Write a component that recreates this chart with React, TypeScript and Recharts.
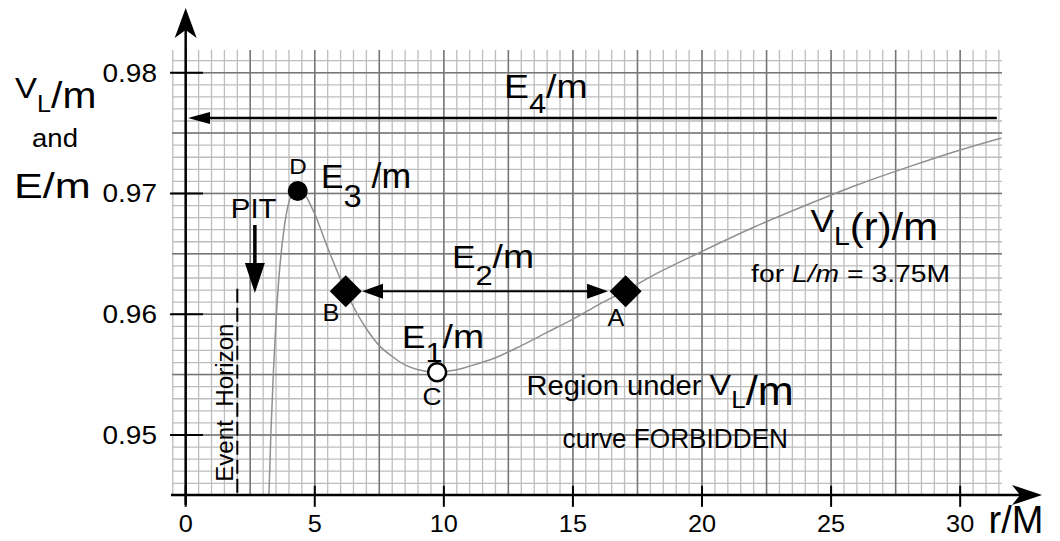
import React from 'react';
import { ComposedChart, Line, XAxis, YAxis, CartesianGrid, ReferenceLine, ReferenceDot } from 'recharts';

// ---- data ----
const rValues = [3.2, 3.3, 3.4, 3.5, 3.6, 3.7, 3.8, 3.9, 4.0, 4.1, 4.2, 4.3, 4.4, 4.5, 4.6, 4.8, 5.0, 5.5, 6.0, 6.5, 7.0, 7.5, 8.0, 8.5, 9.0, 9.7, 10.5, 11, 12, 13, 14, 15, 16, 17, 18, 20, 22, 24, 26, 28, 30, 31.6];
const vValues = [0.9434, 0.9501, 0.9553, 0.9595, 0.9627, 0.9651, 0.9669, 0.9683, 0.9693, 0.9699, 0.9703, 0.9704, 0.9704, 0.9702, 0.9700, 0.9692, 0.9683, 0.9655, 0.9629, 0.9606, 0.9588, 0.9574, 0.9565, 0.9558, 0.9554, 0.9552, 0.9554, 0.9557, 0.9564, 0.9574, 0.9585, 0.9596, 0.9608, 0.9619, 0.9631, 0.9652, 0.9672, 0.9690, 0.9707, 0.9722, 0.9736, 0.9746];
const xTicks = [0, 5, 10, 15, 20, 25, 30];
const yTicks = [0.95, 0.96, 0.97, 0.98];
const energyE4 = 0.97625;
const energyE2 = 0.9619;
const pointD = { r: 4.34, v: 0.9702 };
const pointC = { r: 9.74, v: 0.9552 };
const pointB = { r: 6.2, v: 0.9619 };
const pointA = { r: 17.04, v: 0.9619 };
const horizonR = 2;
const pitR = 2.68;

const X_DOMAIN: [number, number] = [-0.53, 31.62];
const Y_DOMAIN: [number, number] = [0.94503, 0.98188];

const minorX = Array.from({ length: 65 }, (_, i) => -0.5 + i * 0.5);
const majorX = Array.from({ length: 13 }, (_, i) => i * 2.5);
const minorY = Array.from({ length: 37 }, (_, i) => +(0.945 + i * 0.001).toFixed(3));
const majorY = Array.from({ length: 7 }, (_, i) => +(0.95 + i * 0.005).toFixed(3));

const curve = rValues.map((r, i) => ({ r, v: vValues[i] }));

const FONT = '"Liberation Sans", Arial, Helvetica, sans-serif';

type ArrowOpts = { head?: number; half?: number; notch?: number; start?: boolean; end?: boolean; sw: number; dash?: string; color?: string };
const arrow = (o: ArrowOpts) => (p: any) => {
  const { x1, y1, x2, y2 } = p;
  const dx = x2 - x1, dy = y2 - y1;
  const L = Math.hypot(dx, dy) || 1;
  const ux = dx / L, uy = dy / L;
  const nx = -uy, ny = ux;
  const head = o.head ?? 0, half = o.half ?? 0, notch = o.notch ?? 0;
  const c = o.color ?? '#000';
  const mk = (tx: number, ty: number, ex: number, ey: number) => {
    const bx = tx - ex * head, by = ty - ey * head;
    const ix = tx - ex * (head - notch), iy = ty - ey * (head - notch);
    return `M${tx},${ty} L${bx + nx * half},${by + ny * half} L${ix},${iy} L${bx - nx * half},${by - ny * half} Z`;
  };
  const sx = o.start ? x1 + ux * head * 0.7 : x1;
  const sy = o.start ? y1 + uy * head * 0.7 : y1;
  const ex = o.end ? x2 - ux * head * 0.7 : x2;
  const ey = o.end ? y2 - uy * head * 0.7 : y2;
  return (
    <g>
      <line x1={sx} y1={sy} x2={ex} y2={ey} stroke={c} strokeWidth={o.sw} strokeDasharray={o.dash} />
      {o.end && <path d={mk(x2, y2, ux, uy)} fill={c} />}
      {o.start && <path d={mk(x1, y1, -ux, -uy)} fill={c} />}
    </g>
  );
};

const label = (content: React.ReactNode, size: number, opts: { anchor?: 'start' | 'middle' | 'end'; sx?: number; rotate?: number } = {}) => (p: any) => (
  <g transform={`translate(${p.cx},${p.cy})${opts.rotate ? ` rotate(${opts.rotate})` : ''} scale(${opts.sx ?? 1.1},1)`}>
    <text x={0} y={0} fontFamily={FONT} fontSize={size} fill="#000" textAnchor={opts.anchor ?? 'start'}>
      {content}
    </text>
  </g>
);

const diamond = (p: any) => (
  <path d={`M${p.cx},${p.cy - 16} L${p.cx + 16},${p.cy} L${p.cx},${p.cy + 16} L${p.cx - 16},${p.cy} Z`} fill="#000" />
);

const XTick = (p: any) => (
  <g transform={`translate(${p.x},${p.y}) scale(1.1,1)`}>
    <text x={0} y={37} textAnchor="middle" fontFamily={FONT} fontSize={23} fill="#000">{p.payload.value}</text>
  </g>
);
const YTick = (p: any) => (
  <g transform={`translate(${p.x},${p.y}) scale(1.12,1)`}>
    <text x={0} y={9} textAnchor="end" fontFamily={FONT} fontSize={25} fill="#000">{Number(p.payload.value).toFixed(2)}</text>
  </g>
);

export default function App() {
  return (
    <div style={{ position: 'absolute', left: 0, top: 0, width: 1060, height: 541, background: '#fff' }}>
      <ComposedChart width={1060} height={541} data={curve} margin={{ top: 50, right: 58, bottom: 0, left: 112 }}>
        <CartesianGrid verticalValues={minorX} horizontalValues={minorY} stroke="#bdbdbd" strokeWidth={1.3} />
        <CartesianGrid verticalValues={majorX} horizontalValues={majorY} stroke="#767676" strokeWidth={1.5} />
        <XAxis dataKey="r" type="number" domain={X_DOMAIN} allowDataOverflow ticks={xTicks} height={46}
          axisLine={false} tickLine={false} tickSize={0} tickMargin={0} tick={<XTick />} interval={0} />
        <YAxis type="number" domain={Y_DOMAIN} allowDataOverflow ticks={yTicks} width={60}
          axisLine={false} tickLine={false} tickSize={0} tickMargin={15} tick={<YTick />} interval={0} />
        <Line dataKey="v" type="monotone" stroke="#909090" strokeWidth={1.5} dot={false} isAnimationActive={false} />

        {/* axes with arrows */}
        <ReferenceLine ifOverflow="visible" segment={[{ x: 0, y: 0.9442 }, { x: 0, y: 0.98536 }]} shape={arrow({ head: 30, half: 11, notch: 8, end: true, sw: 2.5 })} />
        <ReferenceLine ifOverflow="visible" segment={[{ x: -0.57, y: Y_DOMAIN[0] }, { x: 33.17, y: Y_DOMAIN[0] }]} shape={arrow({ head: 30, half: 10, notch: 8, end: true, sw: 2.5 })} />
        {yTicks.map((t) => (
          <ReferenceLine key={`yt${t}`} ifOverflow="visible" segment={[{ x: -0.607, y: t }, { x: 0.67, y: t }]} stroke="#000" strokeWidth={2} />
        ))}
        {xTicks.map((t) => (
          <ReferenceLine key={`xt${t}`} ifOverflow="visible" segment={[{ x: t, y: 0.94405 }, { x: t, y: 0.94579 }]} stroke="#000" strokeWidth={2} />
        ))}

        {/* annotations */}
        <ReferenceLine ifOverflow="visible" segment={[{ x: 31.42, y: energyE4 }, { x: 0.09, y: energyE4 }]} shape={arrow({ head: 22, half: 6, end: true, sw: 2.5 })} />
        <ReferenceLine ifOverflow="visible" segment={[{ x: 6.83, y: energyE2 }, { x: 16.36, y: energyE2 }]} shape={arrow({ head: 21, half: 7.5, start: true, end: true, sw: 2 })} />
        <ReferenceLine ifOverflow="visible" segment={[{ x: pitR, y: 0.96739 }, { x: pitR, y: 0.96176 }]} shape={arrow({ head: 30, half: 10, end: true, sw: 3.5 })} />
        <ReferenceLine ifOverflow="visible" segment={[{ x: horizonR, y: 0.9621 }, { x: horizonR, y: Y_DOMAIN[0] }]} shape={arrow({ sw: 2, dash: '14 5' })} />

        <ReferenceDot ifOverflow="visible" x={pointD.r} y={pointD.v} r={10} fill="#000" stroke="none" />
        <ReferenceDot ifOverflow="visible" x={pointC.r} y={pointC.v} r={9} fill="#fff" stroke="#000" strokeWidth={2.5} />
        <ReferenceDot ifOverflow="visible" x={pointB.r} y={pointB.v} shape={diamond} />
        <ReferenceDot ifOverflow="visible" x={pointA.r} y={pointA.v} shape={diamond} />

        {/* texts */}
        <ReferenceDot ifOverflow="visible" x={-6.611} y={0.97708} shape={label(<>
          <tspan fontSize={30} y={-10}>V</tspan><tspan fontSize={23} y={4}>L</tspan><tspan fontSize={37} y={0}>/m</tspan>
        </>, 36)} />
        <ReferenceDot ifOverflow="visible" x={-5.95} y={0.97385} shape={label('and', 25)} />
        <ReferenceDot ifOverflow="visible" x={-6.65} y={0.96963} shape={label('E/m', 36, { sx: 1.2 })} />
        <ReferenceDot ifOverflow="visible" x={12.328} y={0.97791} shape={label(<>
          <tspan fontSize={34} y={0}>E</tspan><tspan fontSize={28} y={15}>4</tspan><tspan fontSize={34} y={0}>/m</tspan>
        </>, 34)} />
        <ReferenceDot ifOverflow="visible" x={4.349} y={0.97165} shape={label('D', 22, { anchor: 'middle' })} />
        <ReferenceDot ifOverflow="visible" x={5.24} y={0.97046} shape={label(<>
          <tspan fontSize={33} y={0}>E</tspan><tspan fontSize={32} y={19}>3</tspan><tspan fontSize={35} y={0}> /m</tspan>
        </>, 33, { sx: 1.02 })} />
        <ReferenceDot ifOverflow="visible" x={1.75} y={0.96797} shape={label('PIT', 28, { sx: 1.05 })} />
        <ReferenceDot ifOverflow="visible" x={10.314} y={0.96383} shape={label(<>
          <tspan fontSize={32} y={0}>E</tspan><tspan fontSize={28} y={17}>2</tspan><tspan fontSize={34} y={0}>/m</tspan>
        </>, 32)} />
        <ReferenceDot ifOverflow="visible" x={5.627} y={0.95945} shape={label('B', 23, { anchor: 'middle' })} />
        <ReferenceDot ifOverflow="visible" x={16.665} y={0.95905} shape={label('A', 23, { anchor: 'middle' })} />
        <ReferenceDot ifOverflow="visible" x={8.377} y={0.95721} shape={label(<>
          <tspan fontSize={32} y={0}>E</tspan><tspan fontSize={28} y={14}>1</tspan><tspan fontSize={34} y={0}>/m</tspan>
        </>, 32)} />
        <ReferenceDot ifOverflow="visible" x={9.539} y={0.95245} shape={label('C', 24, { anchor: 'middle' })} />
        <ReferenceDot ifOverflow="visible" x={24.2} y={0.96615} shape={label(<>
          <tspan fontSize={32} y={-8}>V</tspan><tspan fontSize={26} y={5}>L</tspan><tspan fontSize={38} y={0}>(r)/m</tspan>
        </>, 38)} />
        <ReferenceDot ifOverflow="visible" x={21.9} y={0.96267} shape={label(<>
          for <tspan fontStyle="italic">L/m</tspan> = 3.75M
        </>, 24, { sx: 1.18 })} />
        <ReferenceDot ifOverflow="visible" x={13.2} y={0.95332} shape={label(<>
          <tspan fontSize={27}>Region under </tspan><tspan fontSize={30} y={0}>V</tspan><tspan fontSize={24} y={13}>L</tspan><tspan fontSize={40} y={10}>/m</tspan>
        </>, 27, { sx: 1.08 })} />
        <ReferenceDot ifOverflow="visible" x={14.6} y={0.94893} shape={label('curve FORBIDDEN', 27, { sx: 0.97 })} />
        <ReferenceDot ifOverflow="visible" x={1.832} y={0.94612} shape={label('Event\u00a0\u00a0Horizon', 23, { rotate: -90, sx: 1.05 })} />
        <ReferenceDot ifOverflow="visible" x={31.1} y={0.9419} shape={label('r/M', 38, { sx: 1.0 })} />
      </ComposedChart>
    </div>
  );
}
